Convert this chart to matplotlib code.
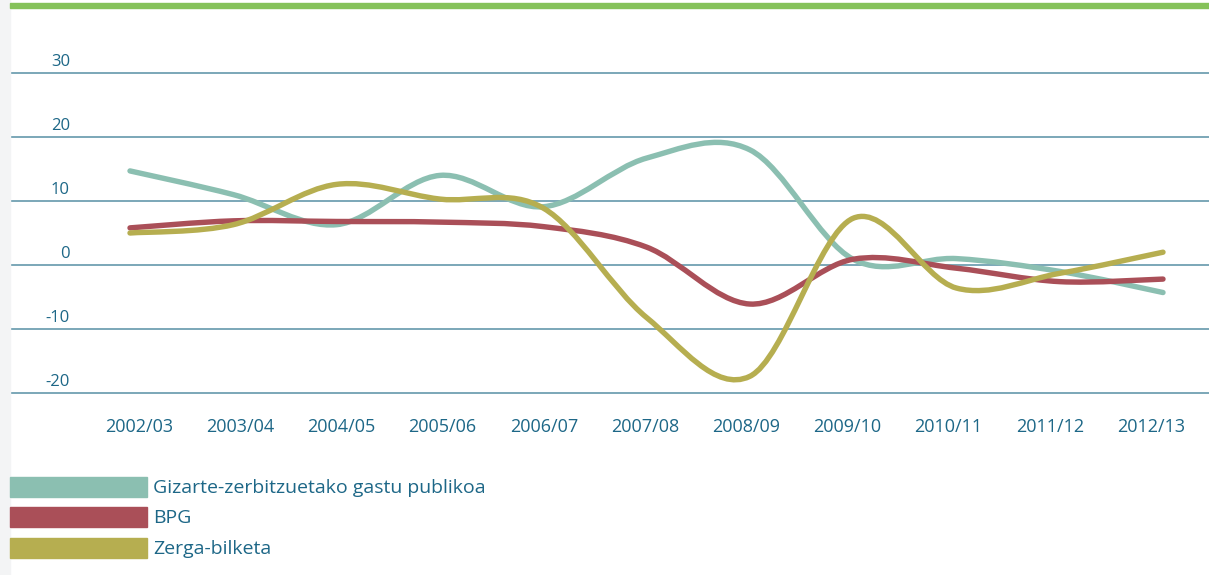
import matplotlib
matplotlib.use('Agg')
import matplotlib.pyplot as plt
from matplotlib.path import Path
from matplotlib.patches import PathPatch, Rectangle
import numpy as np

# data (percent change)
periods = ['2002/03', '2003/04', '2004/05', '2005/06', '2006/07', '2007/08',
           '2008/09', '2009/10', '2010/11', '2011/12', '2012/13']
gizarte = [14.7, 11.0, 6.3, 14.0, 9.1, 16.7, 18.0, 0.9, 1.0, -1.0, -4.3]
bpg = [5.8, 6.9, 6.8, 6.7, 6.0, 2.8, -6.1, 0.9, -0.5, -2.6, -2.2]
zerga = [5.0, 6.3, 12.6, 10.3, 8.9, -8.2, -17.4, 7.3, -3.6, -1.3, 2.0]
yticks = [30, 20, 10, 0, -10, -20]

series_names = ['Gizarte-zerbitzuetako gastu publikoa', 'BPG', 'Zerga-bilketa']
colors = ['#8bbfb1', '#aa4f58', '#b6ae50']
text_col = '#1d6787'
grid_col = '#7ba7b8'

plt.rcParams['font.family'] = ['Open Sans', 'DejaVu Sans']


def smooth_path(xs, ys):
    # catmull-rom through the points, drawn as bezier segments
    n = len(xs)
    verts = [(xs[0], ys[0])]
    codes = [Path.MOVETO]
    for i in range(n - 1):
        p0 = i - 1 if i > 0 else i
        p3 = i + 2 if i + 2 < n else i + 1
        c1 = (xs[i] + (xs[i + 1] - xs[p0]) / 6.0, ys[i] + (ys[i + 1] - ys[p0]) / 6.0)
        c2 = (xs[i + 1] - (xs[p3] - xs[i]) / 6.0, ys[i + 1] - (ys[p3] - ys[i]) / 6.0)
        verts += [c1, c2, (xs[i + 1], ys[i + 1])]
        codes += [Path.CURVE4] * 3
    return Path(verts, codes)


W, H = 1209, 575
fig = plt.figure(figsize=(W / 100, H / 100), dpi=100)
fig.patch.set_facecolor('white')

# light strip on the left, green bar on top
fig.patches.append(Rectangle((0, 0), 10 / W, 1, transform=fig.transFigure,
                             color='#f3f4f5', zorder=0))
fig.patches.append(Rectangle((10 / W, 1 - 8 / H), 1, 5 / H, transform=fig.transFigure,
                             color='#86c25a', zorder=0))

ax_top, ax_bot = 20, 410
ax = fig.add_axes([10 / W, 1 - ax_bot / H, 1 - 10 / W, (ax_bot - ax_top) / H])
ax.set_facecolor('none')
ax.set_ylim((265 - ax_bot) / 6.4, (265 - ax_top) / 6.4)
ax.set_xlim((10 - 130) / 103.3, (1209 - 130) / 103.3)
for s in ax.spines.values():
    s.set_visible(False)
ax.set_xticks([])
ax.set_yticks([])

for v in yticks:
    ax.axhline(v, color=grid_col, lw=1.4, zorder=1)
    ax.annotate(str(v), xy=(60 / 1199, v), xycoords=('axes fraction', 'data'),
                xytext=(0, 2), textcoords='offset points', ha='right', va='bottom',
                color=text_col, fontsize=12)

x = np.arange(len(periods))
for vals, c in zip([gizarte, bpg, zerga], colors):
    p = smooth_path(x, vals)
    ax.add_patch(PathPatch(p, fill=False, edgecolor=c, lw=3.9,
                           capstyle='round', joinstyle='round', zorder=3))

# category labels sit on a slightly tighter spacing than the points
for i, lab in enumerate(periods):
    lx = (9 + 101.2 * i) / 103.3
    ax.annotate(lab, xy=(lx, (265 - 427) / 6.4), xycoords='data', ha='center',
                va='center', color=text_col, fontsize=13, annotation_clip=False)

# legend drawn as colored bars + text
bar_tops = [477, 507, 538]
for top, c, name in zip(bar_tops, colors, series_names):
    fig.patches.append(Rectangle((10 / W, 1 - (top + 20) / H), 137 / W, 20 / H,
                                 transform=fig.transFigure, color=c, zorder=1))
    fig.text(153 / W, 1 - (top + 11) / H, name, ha='left', va='center',
             color=text_col, fontsize=14)

fig.savefig('out.png', dpi=100)
